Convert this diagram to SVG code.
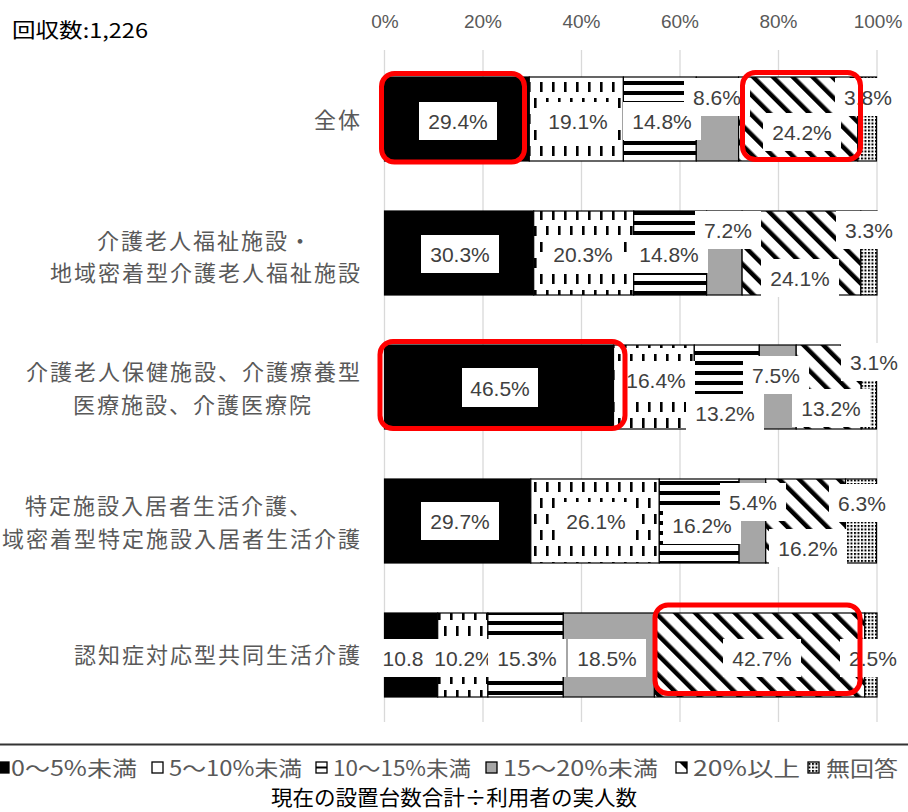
<svg xmlns="http://www.w3.org/2000/svg" width="908" height="812" viewBox="0 0 908 812">
<defs>
<style>
.cat{font-family:"Noto Sans CJK JP","Noto Sans CJK SC",sans-serif;font-size:22px;letter-spacing:2px;fill:#595959}
.val{font-family:"Liberation Sans",Arial,sans-serif;font-size:21px;fill:#404040;text-anchor:middle}
.ax{font-family:"Liberation Sans",Arial,sans-serif;font-size:19px;fill:#595959;text-anchor:middle}
.lb{fill:#fff}
.seg{stroke:#000;stroke-width:1.2}
.hl{fill:none;stroke:#ff0000;stroke-width:5}
.grid{stroke:#d9d9d9;stroke-width:1.3}
.leg{font-family:"Noto Sans CJK JP","Noto Sans CJK SC",sans-serif;font-size:21px;fill:#595959}
.key{stroke:#000;stroke-width:1.3}
.s0{fill:#000}
.s1{fill:url(#pV)}
.s2{fill:url(#pH)}
.s3{fill:#a6a6a6}
.s4{fill:url(#pD)}
.s5{fill:url(#pP)}
</style>
<pattern id="pV" patternUnits="userSpaceOnUse" width="12" height="32">
<rect width="12" height="32" fill="#fff"/>
<rect x="0" y="18" width="2.6" height="10" fill="#000"/>
<rect x="6" y="2" width="2.6" height="10" fill="#000"/>
</pattern>
<pattern id="pH" patternUnits="userSpaceOnUse" width="10" height="10">
<rect width="10" height="10" fill="#fff"/>
<rect y="1" width="10" height="4" fill="#000"/>
</pattern>
<pattern id="pD" patternUnits="userSpaceOnUse" width="14" height="14" patternTransform="rotate(-45)">
<rect width="14" height="14" fill="#fff"/>
<rect width="4.5" height="14" fill="#000"/>
</pattern>
<pattern id="pP" patternUnits="userSpaceOnUse" width="3.5" height="3.5">
<rect width="3.5" height="3.5" fill="#fff"/>
<rect width="2" height="2" fill="#000"/>
</pattern>
</defs>
<rect width="908" height="812" fill="#fff"/>

<g id="header">
<text x="12" y="38" font-family="'Noto Sans CJK JP',sans-serif" font-size="20" fill="#000" textLength="136" lengthAdjust="spacingAndGlyphs">回収数:1,226</text>
</g>

<g id="axis">
<line class="grid" x1="384.5" y1="50" x2="384.5" y2="722"/>
<line class="grid" x1="483" y1="50" x2="483" y2="722"/>
<line class="grid" x1="581.5" y1="50" x2="581.5" y2="722"/>
<line class="grid" x1="680" y1="50" x2="680" y2="722"/>
<line class="grid" x1="778.5" y1="50" x2="778.5" y2="722"/>
<line class="grid" x1="877" y1="50" x2="877" y2="722"/>
<text class="ax" x="385" y="28">0%</text>
<text class="ax" x="483" y="28">20%</text>
<text class="ax" x="581.5" y="28">40%</text>
<text class="ax" x="680" y="28">60%</text>
<text class="ax" x="778.5" y="28">80%</text>
<text class="ax" x="878" y="28">100%</text>
</g>

<g id="row-zentai">
<text class="cat" x="362" y="128" text-anchor="end">全体</text>
<rect class="seg s0" x="384.5" y="77" width="144.8" height="84"/>
<rect class="seg s1" x="529.3" y="77" width="94.1" height="84"/>
<rect class="seg s2" x="623.4" y="77" width="72.9" height="84"/>
<rect class="seg s3" x="696.3" y="77" width="42.3" height="84"/>
<rect class="seg s4" x="738.6" y="77" width="119.2" height="84"/>
<rect class="seg s5" x="857.8" y="77" width="18.7" height="84"/>
<rect class="lb" x="419" y="102" width="78" height="38"/><text class="val" x="458" y="128.5">29.4%</text>
<rect class="lb" x="539" y="102" width="78" height="38"/><text class="val" x="578" y="128.5">19.1%</text>
<rect class="lb" x="623" y="102" width="78" height="38"/><text class="val" x="662" y="128.5">14.8%</text>
<rect class="lb" x="684" y="78" width="66" height="38"/><text class="val" x="717" y="104.5">8.6%</text>
<rect class="lb" x="763" y="113" width="78" height="38"/><text class="val" x="802" y="139.5">24.2%</text>
<rect class="lb" x="835" y="78" width="66" height="38"/><text class="val" x="868" y="104.5">3.8%</text>
</g>

<g id="row-fukushi">
<text class="cat" x="205" y="249" text-anchor="middle">介護老人福祉施設・</text>
<text class="cat" x="362" y="281" text-anchor="end">地域密着型介護老人福祉施設</text>
<rect class="seg s0" x="384.5" y="211" width="149.2" height="84"/>
<rect class="seg s1" x="533.7" y="211" width="100" height="84"/>
<rect class="seg s2" x="633.7" y="211" width="72.9" height="84"/>
<rect class="seg s3" x="706.6" y="211" width="35.5" height="84"/>
<rect class="seg s4" x="742.1" y="211" width="118.7" height="84"/>
<rect class="seg s5" x="860.8" y="211" width="16.2" height="84"/>
<rect class="lb" x="421" y="235" width="78" height="38"/><text class="val" x="460" y="261.5">30.3%</text>
<rect class="lb" x="544" y="235" width="78" height="38"/><text class="val" x="583" y="261.5">20.3%</text>
<rect class="lb" x="630" y="235" width="78" height="38"/><text class="val" x="669" y="261.5">14.8%</text>
<rect class="lb" x="695" y="211" width="66" height="38"/><text class="val" x="728" y="237.5">7.2%</text>
<rect class="lb" x="761" y="259" width="78" height="38"/><text class="val" x="800" y="285.5">24.1%</text>
<rect class="lb" x="836" y="211" width="66" height="38"/><text class="val" x="869" y="237.5">3.3%</text>
</g>

<g id="row-hoken">
<text class="cat" x="362" y="380" text-anchor="end">介護老人保健施設、介護療養型</text>
<text class="cat" x="193" y="413" text-anchor="middle">医療施設、介護医療院</text>
<rect class="seg s0" x="384.5" y="345" width="229" height="84"/>
<rect class="seg s1" x="613.5" y="345" width="80.8" height="84"/>
<rect class="seg s2" x="694.3" y="345" width="65" height="84"/>
<rect class="seg s3" x="759.3" y="345" width="36.9" height="84"/>
<rect class="seg s4" x="796.2" y="345" width="65" height="84"/>
<rect class="seg s5" x="861.2" y="345" width="15.3" height="84"/>
<rect class="lb" x="462" y="368" width="76" height="39"/><text class="val" x="500" y="395.5">46.5%</text>
<rect class="lb" x="617" y="361" width="78" height="38"/><text class="val" x="656" y="387.5">16.4%</text>
<rect class="lb" x="686" y="394" width="78" height="38"/><text class="val" x="725" y="420.5">13.2%</text>
<rect class="lb" x="743" y="356" width="66" height="38"/><text class="val" x="776" y="382.5">7.5%</text>
<rect class="lb" x="792" y="389" width="78" height="38"/><text class="val" x="831" y="415.5">13.2%</text>
<rect class="lb" x="841" y="343" width="66" height="38"/><text class="val" x="874" y="369.5">3.1%</text>
</g>

<g id="row-tokutei">
<text class="cat" x="169" y="514" text-anchor="middle">特定施設入居者生活介護、</text>
<text class="cat" x="362" y="547" text-anchor="end">域密着型特定施設入居者生活介護</text>
<rect class="seg s0" x="384.5" y="479" width="146.3" height="84"/>
<rect class="seg s1" x="530.8" y="479" width="128.5" height="84"/>
<rect class="seg s2" x="659.3" y="479" width="79.8" height="84"/>
<rect class="seg s3" x="739.1" y="479" width="26.6" height="84"/>
<rect class="seg s4" x="765.7" y="479" width="79.8" height="84"/>
<rect class="seg s5" x="845.5" y="479" width="31" height="84"/>
<rect class="lb" x="421" y="502" width="78" height="38"/><text class="val" x="460" y="528.5">29.7%</text>
<rect class="lb" x="557" y="502" width="78" height="38"/><text class="val" x="596" y="528.5">26.1%</text>
<rect class="lb" x="663" y="506" width="78" height="38"/><text class="val" x="702" y="532.5">16.2%</text>
<rect class="lb" x="720" y="483" width="66" height="38"/><text class="val" x="753" y="509.5">5.4%</text>
<rect class="lb" x="769" y="529" width="78" height="38"/><text class="val" x="808" y="555.5">16.2%</text>
<rect class="lb" x="829" y="484" width="66" height="38"/><text class="val" x="862" y="510.5">6.3%</text>
</g>

<g id="row-ninchi">
<text class="cat" x="362" y="663" text-anchor="end">認知症対応型共同生活介護</text>
<rect class="seg s0" x="384.5" y="613" width="53.2" height="84"/>
<rect class="seg s1" x="437.7" y="613" width="50.2" height="84"/>
<rect class="seg s2" x="487.9" y="613" width="75.4" height="84"/>
<rect class="seg s3" x="563.3" y="613" width="91.1" height="84"/>
<rect class="seg s4" x="654.4" y="613" width="210.3" height="84"/>
<rect class="seg s5" x="864.7" y="613" width="12.3" height="84"/>
<rect class="lb" x="381" y="639" width="60" height="38"/><text class="val" x="403" y="665.5">10.8</text>
<rect class="lb" x="425" y="639" width="78" height="38"/><text class="val" x="464" y="665.5">10.2%</text>
<rect class="lb" x="488" y="639" width="78" height="38"/><text class="val" x="527" y="665.5">15.3%</text>
<rect class="lb" x="568" y="639" width="78" height="38"/><text class="val" x="607" y="665.5">18.5%</text>
<rect class="lb" x="723" y="639" width="78" height="38"/><text class="val" x="762" y="665.5">42.7%</text>
<rect class="lb" x="840" y="639" width="66" height="38"/><text class="val" x="873" y="665.5">2.5%</text>
</g>

<g id="highlights">
<rect class="hl" x="381.5" y="73.5" width="143" height="88.5" rx="13"/>
<rect class="hl" x="742.5" y="72.5" width="118" height="87" rx="13"/>
<rect class="hl" x="380" y="341.5" width="245" height="87" rx="13"/>
<rect class="hl" x="655" y="605" width="205" height="88.5" rx="13"/>
</g>

<g id="legend">
<line x1="0" y1="744.5" x2="908" y2="744.5" stroke="#333" stroke-width="2"/>
<rect class="key s0" x="0" y="762" width="9" height="11"/>
<text class="leg" x="11" y="776" textLength="126" lengthAdjust="spacingAndGlyphs">0～5%未満</text>
<rect class="key" x="152" y="762" width="11" height="11" fill="#fff"/>
<text class="leg" x="169" y="776" textLength="133" lengthAdjust="spacingAndGlyphs">5～10%未満</text>
<rect class="key" x="316" y="762" width="11" height="11" fill="#fff"/>
<line x1="316" y1="767.5" x2="327" y2="767.5" stroke="#000" stroke-width="2"/>
<text class="leg" x="333" y="776" textLength="138" lengthAdjust="spacingAndGlyphs">10～15%未満</text>
<rect class="key s3" x="486" y="762" width="11" height="11"/>
<text class="leg" x="503" y="776" textLength="155" lengthAdjust="spacingAndGlyphs">15～20%未満</text>
<rect class="key" x="676" y="762" width="11" height="11" fill="#fff"/>
<polygon points="679,762 687,762 687,770" fill="#000"/>
<text class="leg" x="693" y="776" textLength="107" lengthAdjust="spacingAndGlyphs">20%以上</text>
<rect class="key s5" x="808" y="762" width="11" height="11"/>
<text class="leg" x="826" y="776" textLength="72" lengthAdjust="spacingAndGlyphs">無回答</text>
</g>

<g id="title">
<text x="454" y="805" text-anchor="middle" font-family="'Noto Sans CJK JP',sans-serif" font-size="21" fill="#000" textLength="366" lengthAdjust="spacingAndGlyphs">現在の設置台数合計÷利用者の実人数</text>
</g>
</svg>
